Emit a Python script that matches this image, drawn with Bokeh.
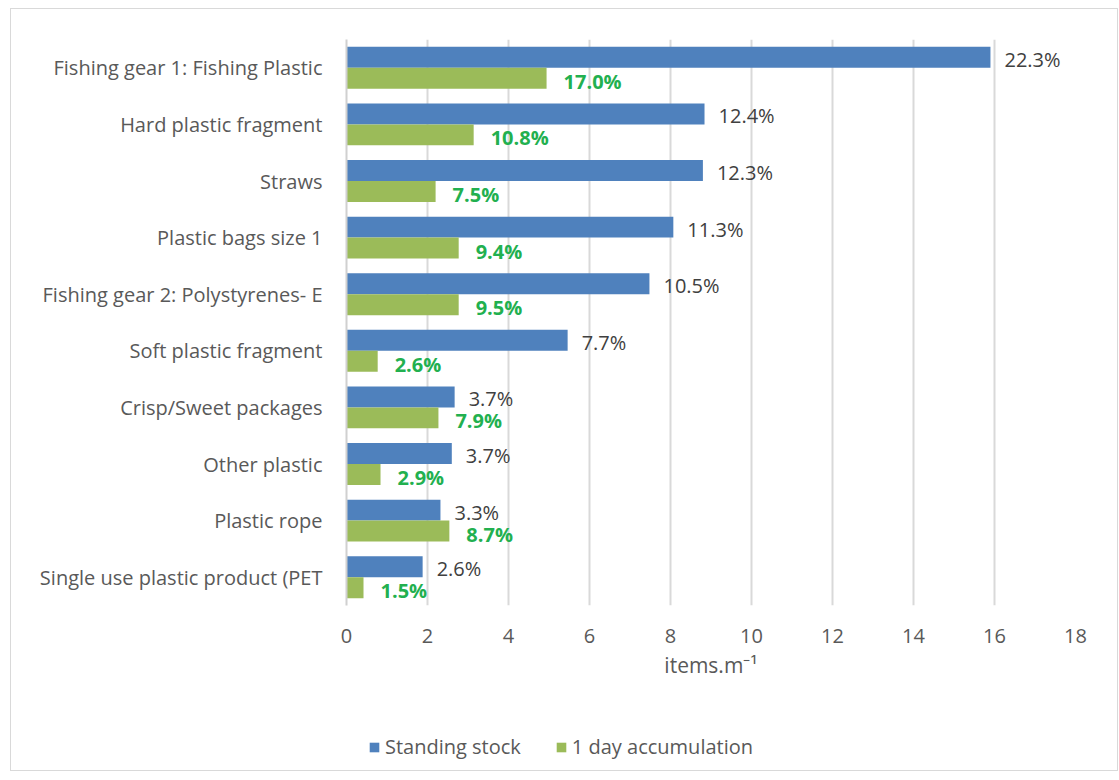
from bokeh.plotting import figure
from bokeh.models import ColumnDataSource, FactorRange, FixedTicker, Legend, LegendItem
from bokeh.layouts import column
from bokeh.transform import dodge
from bokeh.core.properties import value
from bokeh.embed import file_html
from bokeh.resources import INLINE

categories = ["Fishing gear 1: Fishing Plastic", "Hard plastic fragment", "Straws",
              "Plastic bags size 1", "Fishing gear 2: Polystyrenes- E",
              "Soft plastic fragment", "Crisp/Sweet packages", "Other plastic",
              "Plastic rope", "Single use plastic product (PET"]
standing = [15.9, 8.84, 8.8, 8.07, 7.48, 5.46, 2.67, 2.6, 2.32, 1.88]
accumulation = [4.94, 3.14, 2.2, 2.77, 2.77, 0.77, 2.27, 0.84, 2.54, 0.42]
standing_pct = ["22.3%", "12.4%", "12.3%", "11.3%", "10.5%", "7.7%", "3.7%", "3.7%", "3.3%", "2.6%"]
accum_pct = ["17.0%", "10.8%", "7.5%", "9.4%", "9.5%", "2.6%", "7.9%", "2.9%", "8.7%", "1.5%"]
x_ticks = [0, 2, 4, 6, 8, 10, 12, 14, 16, 18]
series_names = ["Standing stock", "1 day accumulation"]
series_colors = ["#4f81bd", "#9bbb59"]

FONT = "Open Sans"
TXT = "#595959"

src = ColumnDataSource(dict(cat=categories, standing=standing, accum=accumulation,
                            sp=standing_pct, ap=accum_pct))

p = figure(frame_width=729, frame_height=566,
           y_range=FactorRange(factors=categories[::-1], range_padding=0),
           x_range=(0, 18), output_backend="svg", toolbar_location=None,
           min_border_left=335, min_border_right=42, min_border_top=30,
           min_border_bottom=80)
p.outline_line_color = None
p.background_fill_color = "white"
p.border_fill_color = "white"

off = 0.185
h = 0.37
yb = dodge('cat', off, range=p.y_range)
yg = dodge('cat', -off, range=p.y_range)
rb = p.hbar(y=yb, right='standing', left=0, height=h, source=src,
            fill_color=series_colors[0], line_color=None)
rg = p.hbar(y=yg, right='accum', left=0, height=h, source=src,
            fill_color=series_colors[1], line_color=None)

p.text(x='standing', y=yb, text='sp', source=src, x_offset=14, y_offset=2,
       text_baseline='middle', text_font=value(FONT), text_font_size="20px",
       text_color="#404040")
p.text(x='accum', y=yg, text='ap', source=src, x_offset=17, y_offset=3,
       text_baseline='middle', text_font=value(FONT), text_font_size="20px",
       text_color="#22b04f", text_font_style="bold")

# x axis
xa = p.xaxis[0]
xa.ticker = FixedTicker(ticks=x_ticks)
xa.axis_line_color = None
xa.major_tick_line_color = None
xa.minor_tick_line_color = None
xa.major_label_text_font = FONT
xa.major_label_text_font_size = "20px"
xa.major_label_text_color = TXT
xa.major_label_standoff = 17
xa.axis_label = "items.m⁻¹"
xa.axis_label_text_font = FONT
xa.axis_label_text_font_size = "21px"
xa.axis_label_text_font_style = "normal"
xa.axis_label_text_color = TXT
xa.axis_label_standoff = 5

ya = p.yaxis[0]
ya.axis_line_color = "#d0d0d0"
ya.axis_line_width = 2
ya.major_tick_line_color = None
ya.minor_tick_line_color = None
ya.major_label_text_font = FONT
ya.major_label_text_font_size = "20px"
ya.major_label_text_color = TXT
ya.major_label_standoff = 18

p.xgrid.grid_line_color = "#d9d9d9"
p.xgrid.grid_line_width = 2
p.ygrid.grid_line_color = None

# legend strip below the chart (its frame is aligned with the chart's frame)
lg = figure(width=1106, height=85, x_range=(0, 1), y_range=(0, 1),
            output_backend="svg", toolbar_location=None,
            x_axis_location=None, y_axis_location=None,
            min_border_left=0, min_border_right=0, min_border_top=0, min_border_bottom=0)
lg.outline_line_color = None
lg.grid.grid_line_color = None
lg.background_fill_color = "white"
lg.border_fill_color = "white"
# legend proxies: zero-width bars outside the visible range
lb = lg.hbar(y=[-1], left=[0], right=[0], height=0.5,
             fill_color=series_colors[0], line_color=None)
lgg = lg.hbar(y=[-1], left=[0], right=[0], height=0.5,
              fill_color=series_colors[1], line_color=None)
legend = Legend(items=[LegendItem(label=series_names[0], renderers=[lb]),
                       LegendItem(label=series_names[1], renderers=[lgg])],
                orientation="horizontal", location=(22, 10),
                label_text_font=FONT, label_text_font_size="20px",
                label_text_color=TXT, glyph_width=12, glyph_height=12,
                label_standoff=5, spacing=34, margin=0, padding=0,
                border_line_color=None, background_fill_alpha=0)
lg.add_layout(legend)

layout = column(p, lg, spacing=0)
layout.styles = {"border": "1px solid #d9d9d9", "margin-left": "10px", "margin-top": "8px"}

open("out.html", "w").write(file_html(layout, INLINE))
